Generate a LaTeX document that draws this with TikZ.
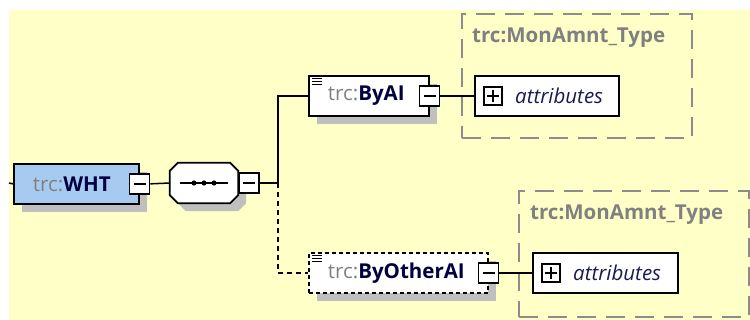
\documentclass[tikz,border=0pt]{standalone}
\usepackage{fontspec}
\setmainfont{Open Sans}
\usetikzlibrary{shadows}
\definecolor{bgyellow}{HTML}{FFFFC8}
\definecolor{elemblue}{HTML}{A6CAF0}
\definecolor{nsgray}{HTML}{808080}
\definecolor{navy}{HTML}{000040}
\definecolor{contgray}{HTML}{8C8C8C}
\definecolor{attrblue}{HTML}{1A1A50}
\tikzset{
  shad/.style={drop shadow={shadow xshift=8pt, shadow yshift=-8pt, fill=black!25, opacity=1}},
  elembox/.style={draw=black, line width=1.7pt, fill=white, anchor=north west,
     minimum height=40pt, inner ysep=0pt, inner xsep=19pt, align=left,
     font=\fontsize{20.5}{22}\selectfont, shad},
  optbox/.style={elembox, dash pattern=on 4pt off 3pt},
  btn/.style={draw=black, line width=1.5pt, fill=white, minimum size=20pt, inner sep=0pt,
     path picture={\draw[line width=1.4pt] ([xshift=-6pt]path picture bounding box.center) -- ([xshift=6pt]path picture bounding box.center);}},
  plusbtn/.style={draw=black, line width=1.4pt, fill=white, minimum size=18pt, inner sep=0pt,
     path picture={\draw[line width=1.4pt] ([xshift=-6pt]path picture bounding box.center) -- ([xshift=6pt]path picture bounding box.center)
       ([yshift=-6pt]path picture bounding box.center) -- ([yshift=6pt]path picture bounding box.center);}},
  attrbox/.style={draw=black, line width=1.7pt, fill=white, anchor=north west, minimum height=40pt, inner sep=0pt},
  attrtext/.style={anchor=west, inner sep=0pt, font=\fontsize{20.5}{22}\selectfont\itshape, text=attrblue},
  container/.style={draw=contgray, line width=2pt, dash pattern=on 19pt off 10pt, anchor=north west, inner sep=0pt},
  conttitle/.style={anchor=west, inner sep=0pt, text=nsgray, font=\fontsize{20.5}{22}\selectfont\bfseries},
  conn/.style={draw=black, line width=1.5pt},
  optconn/.style={conn, dash pattern=on 5pt off 4pt},
  icon/.style={line width=1.2pt},
}
\newcommand{\ns}{\textcolor{nsgray}{trc:}}
\newcommand{\nm}[1]{\textcolor{navy}{\bfseries #1}}
\begin{document}
\begin{tikzpicture}[x=1pt,y=-1pt]
\useasboundingbox (0,0) rectangle (750,320);
\fill[bgyellow] (9,10) rectangle (750,320);

% containers
\node[container, minimum width=230pt, minimum height=124pt] (cont1) at (461,13) {};
\node[conttitle] (title1) at (472,38) {trc:MonAmnt\_Type};
\node[container, minimum width=230pt, minimum height=126pt] (cont2) at (518,190) {};
\node[conttitle] (title2) at (530,215) {trc:MonAmnt\_Type};

% main element
\coordinate (leftend) at (9,183);
\node[elembox, fill=elemblue, minimum width=125pt, text width=87pt] (wht) at (13,163) {\ns\nm{WHT}};
\node[btn] (whtm) at (wht.east) {};

% sequence compositor
\node[minimum width=68pt, minimum height=40pt, inner sep=0pt] (seq) at (204,183) {};
\draw[line width=1.7pt, fill=white, shad]
  ([xshift=8pt]seq.north west) -- ([xshift=-8pt]seq.north east) -- ([yshift=-8pt]seq.north east)
  -- ([yshift=8pt]seq.south east) -- ([xshift=-8pt]seq.south east) -- ([xshift=8pt]seq.south west)
  -- ([yshift=8pt]seq.south west) -- ([yshift=-8pt]seq.north west) -- cycle;
\draw[line width=1.3pt] ([xshift=10pt]seq.west) -- ([xshift=-10pt]seq.east);
\fill ([xshift=-10pt]seq.center) circle[radius=2.6pt];
\fill (seq.center) circle[radius=2.6pt];
\fill ([xshift=10pt]seq.center) circle[radius=2.6pt];
\node[btn, anchor=west] (seqm) at (seq.east) {};
\coordinate (branch) at (278,183);

% children
\node[elembox, minimum width=120pt, text width=82pt] (byai) at (308,75) {\ns\nm{ByAI}};
\node[btn] (byaim) at (byai.east) {};
\node[optbox, minimum width=179pt, text width=141pt] (byother) at (308,252) {\ns\nm{ByOtherAI}};
\node[btn] (byotherm) at (byother.east) {};

% icons
\foreach \dy in {3.5,6.5,9.5} {
  \draw[icon] ([xshift=4pt,yshift=-\dy pt]byai.north west) -- ++(10,0);
  \draw[icon] ([xshift=4pt,yshift=-\dy pt]byother.north west) -- ++(10,0);
}

% attributes
\node[attrbox, minimum width=144pt] (attr1) at (474,75) {};
\node[plusbtn] (plus1) at ([xshift=19pt]attr1.west) {};
\node[attrtext] (attr1t) at ([xshift=41pt]attr1.west) {attributes};
\node[attrbox, minimum width=145pt] (attr2) at (532,252) {};
\node[plusbtn] (plus2) at ([xshift=19pt]attr2.west) {};
\node[attrtext] (attr2t) at ([xshift=41pt]attr2.west) {attributes};

% connectors
\draw[conn] (leftend) -- (wht.west);
\draw[conn] (whtm.east) -- (seq.west);
\draw[conn] (seqm.east) -- (branch);
\draw[conn] (branch) |- (byai.west);
\draw[optconn] (branch) |- (byother.west);
\draw[conn] (byaim.east) -- (attr1.west);
\draw[conn] (byotherm.east) -- (attr2.west);
\end{tikzpicture}
\end{document}
